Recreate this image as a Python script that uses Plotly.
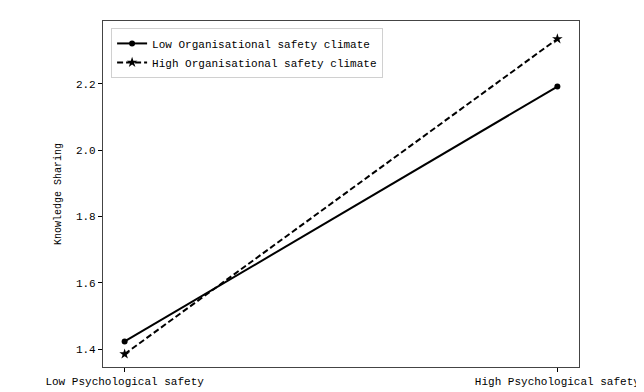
import plotly.graph_objects as go

categories = ["Low Psychological safety", "High Psychological safety"]
low_osc = [1.423, 2.192]
high_osc = [1.385, 2.336]
series_names = ["Low Organisational safety climate", "High Organisational safety climate"]
y_ticks = [1.4, 1.6, 1.8, 2.0, 2.2]
y_tick_labels = ["1.4", "1.6", "1.8", "2.0", "2.2"]

FONT = "Liberation Mono, DejaVu Sans Mono, monospace"
xpos = list(range(len(categories)))

fig = go.Figure()
fig.add_trace(go.Scatter(
    x=xpos, y=low_osc, name=series_names[0], mode="lines+markers",
    line=dict(color="black", width=2),
    marker=dict(symbol="circle", size=6, color="black"),
))
fig.add_trace(go.Scatter(
    x=xpos, y=high_osc, name=series_names[1], mode="lines+markers",
    line=dict(color="black", width=2, dash="6px,3px"),
    marker=dict(symbol="star", size=8, color="black"),
))

fig.update_layout(
    width=644, height=392,
    margin=dict(l=95, r=67, t=13, b=23),
    plot_bgcolor="white", paper_bgcolor="white",
    font=dict(family=FONT, size=11, color="black"),
    showlegend=True,
    legend=dict(
        x=0.017, y=0.98, xanchor="left", yanchor="top",
        bgcolor="white", bordercolor="#d0d0d0", borderwidth=1,
        font=dict(family=FONT, size=11, color="black"),
        tracegroupgap=0, itemwidth=30,
    ),
    xaxis=dict(
        range=[-0.05, 1.05], tickmode="array", tickvals=xpos, ticktext=categories,
        showgrid=False, zeroline=False, showline=True, linecolor="#444", linewidth=1.2,
        mirror=True, ticks="outside", ticklen=4, tickcolor="black",
        tickfont=dict(family=FONT, size=11, color="black"),
    ),
    yaxis=dict(
        range=[1.346, 2.39], tickmode="array", tickvals=y_ticks, ticktext=y_tick_labels,
        showgrid=False, zeroline=False, showline=True, linecolor="#444", linewidth=1.2,
        mirror=True, ticks="outside", ticklen=4, tickcolor="black",
        tickfont=dict(family=FONT, size=11, color="black"),
        title=dict(text="Knowledge Sharing", font=dict(family=FONT, size=10, color="black"), standoff=12),
    ),
)

fig.write_html("out.html")
